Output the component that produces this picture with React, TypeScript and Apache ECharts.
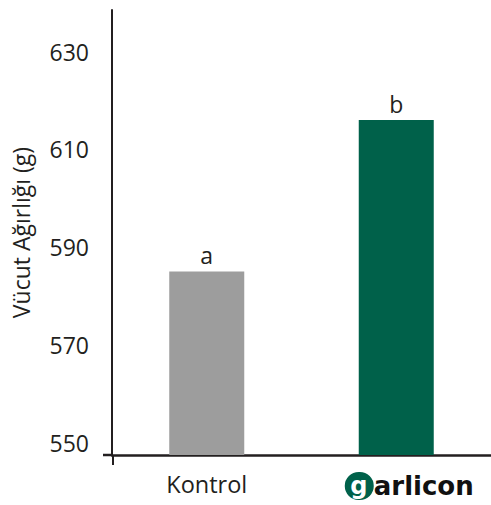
import React, { useEffect, useRef } from "react";
import * as echarts from "echarts";

const categories = ["Kontrol", "garlicon"];
const values = [585, 616];
const letters = ["a", "b"];
const barColors = ["#9d9d9d", "#00614a"];
const yTicks = [550, 570, 590, 610, 630];
const yName = "Vücut Ağırlığı (g)";

const INK = "#231f20";
const FONT = "Open Sans";

export default function App() {
  const ref = useRef<HTMLDivElement>(null);
  useEffect(() => {
    if (!ref.current) return;
    const chart = echarts.init(ref.current, null, { renderer: "svg" });
    const gridLeft = 112;
    const gridTop = 10;
    const gridBottom = 50;
    const H = 505;
    const axisY = H - gridBottom;
    chart.setOption({
      animation: false,
      grid: { left: gridLeft, width: 383, top: gridTop, bottom: gridBottom, containLabel: false },
      xAxis: {
        type: "category",
        data: categories,
        axisLine: { show: true, lineStyle: { color: INK, width: 2.5 } },
        axisTick: { show: false },
        axisLabel: {
          interval: 0,
          hideOverlap: false,
          margin: 17,
          fontFamily: FONT,
          fontSize: 23.5,
          color: INK,
          formatter: (v: string) => (v === "garlicon" ? "{s|}{g|g}{t|arlicon}" : v),
          rich: {
            s: { width: 26, height: 28 },
            g: {
              backgroundColor: "#00614a",
              color: "#ffffff",
              width: 28,
              height: 28,
              borderRadius: 14,
              align: "right",
              fontFamily: "DejaVu Sans",
              fontWeight: "bold",
              fontSize: 24,
              lineHeight: 28,
              padding: [0, 1, 0, 0],
            },
            t: {
              color: "#111111",
              fontFamily: "DejaVu Sans",
              fontWeight: "bold",
              fontSize: 26,
              lineHeight: 28,
            },
          },
        },
      },
      yAxis: {
        type: "value",
        min: 547.5,
        max: 638.5,
        name: yName,
        nameLocation: "middle",
        nameGap: 80,
        nameTextStyle: { fontFamily: FONT, fontSize: 23, color: INK },
        axisLine: { show: true, lineStyle: { color: INK, width: 2 } },
        axisTick: { show: false, customValues: yTicks },
        splitLine: { show: false },
        axisLabel: {
          customValues: yTicks,
          margin: 23,
          fontFamily: FONT,
          fontSize: 23,
          color: INK,
        },
      },
      series: [
        {
          type: "bar",
          data: values.map((v, i) => ({ value: v, itemStyle: { color: barColors[i] } })),
          barWidth: 75,
          label: {
            show: true,
            position: "top",
            distance: 5,
            fontFamily: FONT,
            fontSize: 23,
            color: INK,
            formatter: (p: any) => letters[p.dataIndex],
          },
        },
      ],
      graphic: [
        {
          type: "line",
          shape: { x1: gridLeft + 1, y1: axisY, x2: gridLeft + 1, y2: axisY + 10 },
          style: { stroke: INK, lineWidth: 2 },
        },
        {
          type: "line",
          shape: { x1: gridLeft - 9, y1: axisY, x2: gridLeft, y2: axisY },
          style: { stroke: INK, lineWidth: 2.5 },
        },
      ],
    });
    return () => chart.dispose();
  }, []);
  return (
    <div
      ref={ref}
      style={{ position: "absolute", left: 0, top: 0, width: 491, height: 505, background: "#fff" }}
    />
  );
}
